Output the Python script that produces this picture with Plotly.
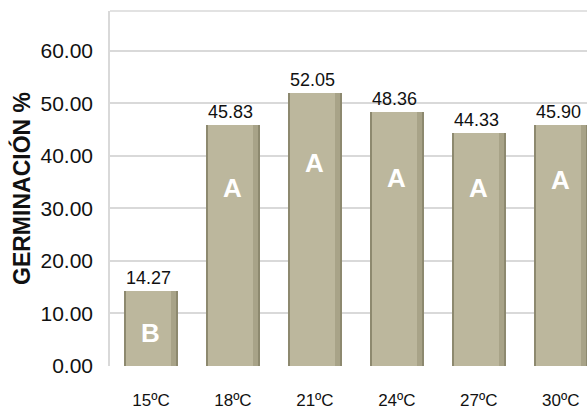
import plotly.graph_objects as go

categories = ["15ºC", "18ºC", "21ºC", "24ºC", "27ºC", "30ºC"]
values = [14.27, 45.83, 52.05, 48.36, 44.33, 45.90]
value_labels = ["14.27", "45.83", "52.05", "48.36", "44.33", "45.90"]
letters = ["B", "A", "A", "A", "A", "A"]
letter_y = [6.3, 33.9, 38.7, 35.8, 33.9, 35.4]
y_ticks = [0, 10, 20, 30, 40, 50, 60]
y_tick_labels = ["0.00", "10.00", "20.00", "30.00", "40.00", "50.00", "60.00"]

FONT = "Liberation Sans, Arial, sans-serif"
x = list(range(len(categories)))

fig = go.Figure()
# dark edge / shadow layer
fig.add_trace(go.Bar(x=x, y=values, width=0.66, marker=dict(color="#8d896f", line=dict(width=0)),
                     hoverinfo="skip", showlegend=False))
# mid-tone band
fig.add_trace(go.Bar(x=x, y=values, width=0.61, offset=-0.305, marker=dict(color="#a8a388", line=dict(width=0)),
                     hoverinfo="skip", showlegend=False))
# main face
fig.add_trace(go.Bar(x=x, y=values, width=0.55, offset=-0.30, marker=dict(color="#bcb79d", line=dict(width=0)),
                     text=value_labels, textposition="outside", cliponaxis=False,
                     textfont=dict(family=FONT, size=19, color="#111111"),
                     hoverinfo="skip", showlegend=False))

for xi, letter, ly in zip(x, letters, letter_y):
    fig.add_annotation(x=xi, y=ly, text=letter, showarrow=False,
                       font=dict(family=FONT, size=26, color="white", weight="bold"))

fig.add_shape(type="line", xref="paper", yref="paper", x0=0, x1=1, y0=1, y1=1,
              line=dict(color="#d9d9d9", width=1.5))

fig.update_layout(
    width=587, height=413,
    margin=dict(l=110, r=0, t=11, b=47),
    paper_bgcolor="white", plot_bgcolor="white",
    barmode="overlay", bargap=0,
    xaxis=dict(range=[-0.5, 5.32], tickmode="array", tickvals=x, ticktext=categories,
               tickfont=dict(family=FONT, size=17, color="#111111"),
               showgrid=False, zeroline=False, showline=False, ticks="", ticklabelstandoff=22,
               automargin=False, fixedrange=True),
    yaxis=dict(range=[0, 67.6], tickmode="array", tickvals=y_ticks, ticktext=y_tick_labels,
               tickfont=dict(family=FONT, size=21, color="#111111"),
               showgrid=True, gridcolor="#d9d9d9", gridwidth=1.5,
               zeroline=False, showline=True, linecolor="#d9d9d9", linewidth=1.5,
               ticks="", ticklabelstandoff=11,
               title=dict(text="GERMINACIÓN %", standoff=3,
                          font=dict(family=FONT, size=23, color="#111111", weight="bold")),
               automargin=False, fixedrange=True),
    font=dict(family=FONT),
)

fig.write_html("out.html", config={"displayModeBar": False},
               post_script="document.body.style.margin='0px';document.body.style.overflow='hidden';")
